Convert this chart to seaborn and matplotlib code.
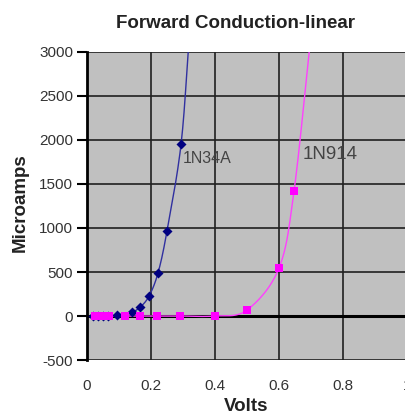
import numpy as np
import pandas as pd
import matplotlib
matplotlib.use("Agg")
import matplotlib.pyplot as plt
import seaborn as sns

# ---- data ----
v_1n34a = [0.019, 0.034, 0.05, 0.066, 0.094, 0.14, 0.166, 0.194, 0.222, 0.25, 0.294, 0.32]
i_1n34a = [0, 0, 0, 0, 10, 45, 100, 227, 490, 966, 1955, 3200]
v_1n914 = [0.025, 0.04, 0.06, 0.07, 0.12, 0.166, 0.22, 0.29, 0.40, 0.50, 0.60, 0.647, 0.70]
i_1n914 = [0, 0, 0, 0, 0, 0, 0, 0, 0, 68, 545, 1420, 3200]
x_ticks = [0, 0.2, 0.4, 0.6, 0.8, 1]
x_ticklabels = ["0", "0.2", "0.4", "0.6", "0.8", "1"]
y_ticks = [-500, 0, 500, 1000, 1500, 2000, 2500, 3000]

sns.set_theme(style="white")
plt.rcParams['font.family'] = ['Liberation Sans', 'DejaVu Sans']
plt.rcParams['axes.unicode_minus'] = False


def smooth(xs, ys, n=20):
    """Catmull-Rom smoothing like Excel's smoothed line."""
    x = np.asarray(xs, float); y = np.asarray(ys, float)
    px = np.concatenate([[2 * x[0] - x[1]], x, [2 * x[-1] - x[-2]]])
    py = np.concatenate([[2 * y[0] - y[1]], y, [2 * y[-1] - y[-2]]])
    ox, oy = [], []
    t = np.linspace(0, 1, n, endpoint=False)
    for k in range(1, len(px) - 2):
        for arr, out in ((px, ox), (py, oy)):
            p0, p1, p2, p3 = arr[k - 1], arr[k], arr[k + 1], arr[k + 2]
            out.extend(0.5 * ((2 * p1) + (-p0 + p2) * t + (2 * p0 - 5 * p1 + 4 * p2 - p3) * t ** 2
                              + (-p0 + 3 * p1 - 3 * p2 + p3) * t ** 3))
    ox.append(x[-1]); oy.append(y[-1])
    return np.array(ox), np.array(oy)


fig = plt.figure(figsize=(4.06, 4.19), dpi=100)
ax = fig.add_axes([87 / 406, 1 - 360 / 419, 320 / 406, 308 / 419])
ax.set_facecolor("#c0c0c0")

for xs, ys, lc in ((v_1n34a, i_1n34a, "#3030a0"), (v_1n914, i_1n914, "#ff40ff")):
    sx, sy = smooth(xs, ys)
    sns.lineplot(x=sx, y=sy, ax=ax, color=lc, linewidth=1.0, sort=False, estimator=None, zorder=3)

ax.axhline(0, color="black", linewidth=2.2, zorder=2)

sns.scatterplot(x=v_1n34a, y=i_1n34a, ax=ax, marker="D", s=26, color="#000080",
                edgecolor="#000080", linewidth=0, zorder=4)
sns.scatterplot(x=v_1n914, y=i_1n914, ax=ax, marker="s", s=34, color="#ff00ff",
                edgecolor="#ff00ff", linewidth=0, zorder=5)

ax.set_xlim(0, 1)
ax.set_ylim(-500, 3000)
ax.set_xticks(x_ticks)
ax.set_xticklabels(x_ticklabels)
ax.set_yticks(y_ticks)
ax.grid(True, color="#202020", linewidth=1.2)
ax.set_axisbelow(True)

for s in ("top", "right", "bottom"):
    ax.spines[s].set_visible(False)
ax.spines["left"].set_color("black")
ax.spines["left"].set_linewidth(2.0)
ax.tick_params(axis="y", direction="out", length=7, width=1.5, color="black",
               labelsize=11, labelcolor="#333333", pad=3, left=True)
ax.tick_params(axis="x", length=0, labelsize=11, labelcolor="#333333", pad=14)

ax.text(0.298, 1790, "1N34A", fontsize=11.5, color="#444444", ha="left", va="center", zorder=6)
ax.text(0.673, 1830, "1N914", fontsize=13.5, color="#444444", ha="left", va="center", zorder=6)

fig.text(236 / 406, 1 - 23 / 419, "Forward Conduction-linear", ha="center", va="center",
         fontsize=13.5, fontweight="bold", color="#222222")
fig.text(246 / 406, 1 - 406 / 419, "Volts", ha="center", va="center",
         fontsize=13.5, fontweight="bold", color="#222222")
fig.text(20 / 406, 1 - 203 / 419, "Microamps", ha="center", va="center", rotation=90,
         fontsize=13.5, fontweight="bold", color="#222222")

fig.savefig("out.png", dpi=100, facecolor="white")
